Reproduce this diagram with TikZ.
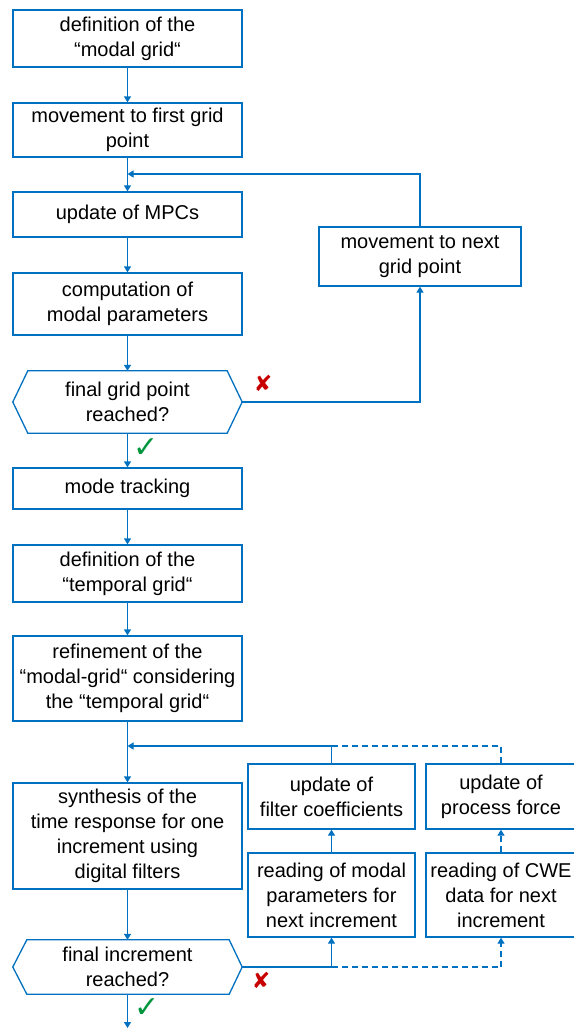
\documentclass[tikz,border=0pt]{standalone}
\usepackage{fontspec}
\setmainfont{Liberation Sans}
\newfontfamily\symfont{DejaVu Sans}
\usetikzlibrary{arrows.meta}

\definecolor{flowblue}{RGB}{0,112,192}
\definecolor{okgreen}{RGB}{0,150,60}
\definecolor{nored}{RGB}{200,0,0}

\tikzset{
    box/.style={draw=flowblue, line width=1.3pt, rectangle, align=center, inner sep=0pt, font=\fontsize{20}{25}\selectfont},
    qbox/.style={rectangle, align=center, inner sep=0pt, minimum width=229, font=\fontsize{20}{25}\selectfont},
    link/.style={draw=flowblue, line width=1.3pt},
    flow/.style={link, -{Triangle[width=7pt,length=6pt]}},
    dashlink/.style={dash pattern=on 6pt off 4pt},
    okmark/.style={text=okgreen, font=\symfont\fontsize{30}{30}\selectfont, inner sep=0pt},
    nomark/.style={text=nored, font=\symfont\fontsize{22}{22}\selectfont, inner sep=0pt},
}

\begin{document}
\begin{tikzpicture}[x=1pt,y=1pt,yscale=-1,xscale=1]
    \useasboundingbox (0,0) rectangle (573,1028);

    % main column
    \node[box, minimum width=229, minimum height=57] (defmodal) at (127.5,38.5) {definition of the\\“modal grid“};
    \node[box, minimum width=229, minimum height=54] (firstpt) at (127.5,130) {movement to first grid\\point};
    \node[box, minimum width=229, minimum height=45] (mpc) at (127.5,214.5) {update of MPCs};
    \node[box, minimum width=229, minimum height=62] (modpar) at (127.5,304) {computation of\\modal parameters};
    \node[qbox, minimum height=62] (gridq) at (127.5,402) {final grid point\\reached?};
    \node[box, minimum width=229, minimum height=41] (track) at (127.5,488.5) {mode tracking};
    \node[box, minimum width=229, minimum height=57] (deftemp) at (127.5,573.5) {definition of the\\“temporal grid“};
    \node[box, minimum width=229, minimum height=85] (refine) at (127.5,678.5) {refinement of the\\“modal-grid“ considering\\the “temporal grid“};
    \node[box, minimum width=229, minimum height=106] (synth) at (127.5,836) {synthesis of the\\time response for one\\increment using\\digital filters};
    \node[qbox, minimum height=54] (incq) at (127.5,967) {final increment\\reached?};

    % side boxes
    \node[box, minimum width=202, minimum height=59] (nextpt) at (420,256.5) {movement to next\\grid point};
    \node[box, minimum width=167, minimum height=65] (filter) at (331.5,796.5) {update of\\filter coefficients};
    \node[box, minimum width=167, minimum height=84] (readmodal) at (331.5,895) {reading of modal\\parameters for\\next increment};
    \node[box, minimum width=150, minimum height=65] (force) at (501,796.5) {update of\\process force};
    \node[box, minimum width=150, minimum height=84] (readcwe) at (501,895) {reading of CWE\\data for next\\increment};

    % decision shapes
    \draw[link] (gridq.west) -- ([xshift=15]gridq.north west) -- ([xshift=-15]gridq.north east) -- (gridq.east) -- ([xshift=-15]gridq.south east) -- ([xshift=15]gridq.south west) -- cycle;
    \draw[link] (incq.west) -- ([xshift=14]incq.north west) -- ([xshift=-13]incq.north east) -- (incq.east) -- ([xshift=-13]incq.south east) -- ([xshift=14]incq.south west) -- cycle;

    % junctions
    \coordinate (jgrid) at (127.5,174);
    \coordinate (jinc) at (127.5,746);
    \coordinate (outend) at (127.5,1028);

    % connectors
    \draw[flow] (defmodal) -- (firstpt);
    \draw[flow] (firstpt) -- (mpc);
    \draw[flow] (mpc) -- (modpar);
    \draw[flow] (modpar) -- (gridq);
    \draw[flow] (gridq) -- (track);
    \draw[flow] (track) -- (deftemp);
    \draw[flow] (deftemp) -- (refine);
    \draw[flow] (refine) -- (synth);
    \draw[flow] (synth) -- (incq);
    \draw[flow] (incq) -- (outend);

    % grid loop
    \draw[flow] (gridq.east) -| (nextpt.south);
    \draw[flow] (nextpt.north) |- (jgrid);

    % increment loop
    \draw[flow] (incq.east) -| (readmodal.south);
    \draw[flow, dashlink] (readmodal.south |- incq.east) -| (readcwe.south);
    \draw[flow] (readmodal) -- (filter);
    \draw[flow, dashlink] (readcwe) -- (force);
    \draw[flow] (filter.north) |- (jinc);
    \draw[link, dashlink] (force.north) |- (filter.north |- jinc);

    % marks
    \node[nomark] (nogrid) at (263,383) {✘};
    \node[okmark] (okgrid) at (146,448) {✓};
    \node[nomark] (noinc) at (261,980) {✘};
    \node[okmark] (okinc) at (147,1008) {✓};

\end{tikzpicture}
\end{document}
